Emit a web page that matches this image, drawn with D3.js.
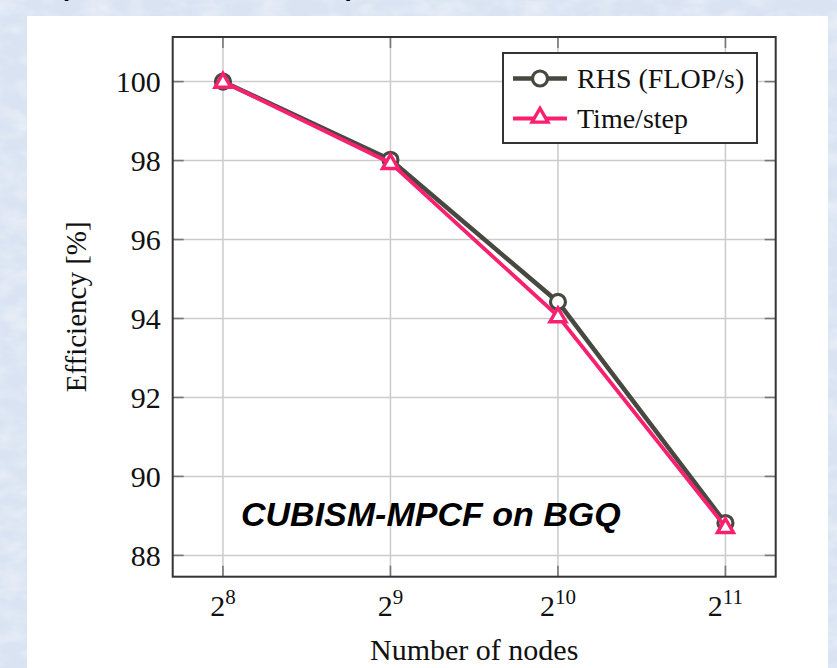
<!DOCTYPE html>
<html>
<head>
<meta charset="utf-8">
<script src="https://cdn.jsdelivr.net/npm/d3@7"></script>
<style>
  html, body { margin: 0; padding: 0; background: #dce6f4; }
  svg { display: block; }
</style>
</head>
<body>
<div id="place"></div>
<script>
(function() {

	// data
	const nodesExp = [8, 9, 10, 11]
	const rhsEff = [100, 98.02, 94.42, 88.82]
	const timeEff = [100, 97.94, 94.06, 88.72]
	const yTicks = [88, 90, 92, 94, 96, 98, 100]
	const seriesNames = ["RHS (FLOP/s)", "Time/step"]

	const W = 837, H = 668
	const frame = { left: 172.7, right: 775.7, top: 37, bottom: 576.7 }

	let svg = d3.select("#place").append("svg")
		.attr('width', W)
		.attr('height', H)

	// mottled blue backdrop
	let defs = svg.append("defs")
	let f = defs.append("filter").attr('id', 'marble')
		.attr('x', 0).attr('y', 0).attr('width', '100%').attr('height', '100%')
	f.append("feTurbulence")
		.attr('type', 'fractalNoise')
		.attr('baseFrequency', '0.035 0.06')
		.attr('numOctaves', 3)
		.attr('seed', 4)
	f.append("feColorMatrix")
		.attr('type', 'matrix')
		.attr('values', '0 0 0 0 1  0 0 0 0 1  0 0 0 0 1  0.9 0 0 0 -0.35')

	svg.append('rect').attr('width', W).attr('height', H).attr('fill', '#d9e3f2')
	svg.append('rect').attr('width', W).attr('height', H).attr('filter', 'url(#marble)')

	// caption above, mostly cut off by the top edge as in the source
	svg.append('text').attr('x', 60).attr('y', -4)
		.style('font', 'bold 26px "Liberation Sans", Arial').text('(')
	svg.append('text').attr('x', 346).attr('y', -4)
		.style('font', 'bold 26px "Liberation Sans", Arial').text(')')

	// white panel
	svg.append('rect')
		.attr('x', 27).attr('y', 16)
		.attr('width', 801).attr('height', H)
		.attr('fill', '#fff')

	const x = d3.scaleLinear().domain([7.7, 11.3]).range([frame.left, frame.right])
	const y = d3.scaleLinear().domain([87.46, 101.13]).range([frame.bottom, frame.top])

	let g = svg.append('g')

	// grid
	g.selectAll('line.gx').data(nodesExp).enter().append('line')
		.attr('x1', d => x(d)).attr('x2', d => x(d))
		.attr('y1', frame.top).attr('y2', frame.bottom)
		.style('stroke', '#cbcbcb').style('stroke-width', 1.5)
	g.selectAll('line.gy').data(yTicks).enter().append('line')
		.attr('y1', d => y(d)).attr('y2', d => y(d))
		.attr('x1', frame.left).attr('x2', frame.right)
		.style('stroke', '#cbcbcb').style('stroke-width', 1.5)

	// tick marks, inside on all four sides
	const tl = 11
	yTicks.forEach(d => {
		g.append('line').attr('x1', frame.left).attr('x2', frame.left + tl)
			.attr('y1', y(d)).attr('y2', y(d)).style('stroke', '#777').style('stroke-width', 1.6)
		g.append('line').attr('x1', frame.right - tl).attr('x2', frame.right)
			.attr('y1', y(d)).attr('y2', y(d)).style('stroke', '#777').style('stroke-width', 1.6)
	})
	nodesExp.forEach(d => {
		g.append('line').attr('y1', frame.bottom).attr('y2', frame.bottom - tl)
			.attr('x1', x(d)).attr('x2', x(d)).style('stroke', '#777').style('stroke-width', 1.6)
		g.append('line').attr('y1', frame.top).attr('y2', frame.top + tl)
			.attr('x1', x(d)).attr('x2', x(d)).style('stroke', '#777').style('stroke-width', 1.6)
	})

	// y tick labels
	g.selectAll('text.yt').data(yTicks).enter().append('text')
		.attr('x', frame.left - 12)
		.attr('y', d => y(d))
		.attr('dy', '0.34em')
		.attr('text-anchor', 'end')
		.style('font', '30px "Liberation Serif", "Times New Roman", serif')
		.style('fill', '#111')
		.text(d => d)

	// x tick labels 2^n
	let xt = g.selectAll('text.xt').data(nodesExp).enter().append('text')
		.attr('x', d => x(d))
		.attr('y', 616)
		.attr('text-anchor', 'middle')
		.style('font', '30px "Liberation Serif", "Times New Roman", serif')
		.style('fill', '#111')
	xt.append('tspan').text('2')
	xt.append('tspan').attr('dy', -12).style('font-size', '21px').text(d => d)

	// axis titles
	svg.append('text')
		.attr('x', (frame.left + frame.right) / 2).attr('y', 660)
		.attr('text-anchor', 'middle')
		.style('font', '30px "Liberation Serif", "Times New Roman", serif')
		.style('fill', '#111')
		.text('Number of nodes')
	svg.append('text')
		.attr('transform', 'translate(86,' + ((frame.top + frame.bottom) / 2) + ') rotate(-90)')
		.attr('text-anchor', 'middle')
		.style('font', '29px "Liberation Serif", "Times New Roman", serif')
		.style('fill', '#111')
		.text('Efficiency [%]')

	// frame
	g.append('rect')
		.attr('x', frame.left).attr('y', frame.top)
		.attr('width', frame.right - frame.left).attr('height', frame.bottom - frame.top)
		.style('fill', 'none').style('stroke', '#333').style('stroke-width', 2)

	// series
	const cDark = '#474840', cPink = '#f8206f'
	const line = d3.line().x(d => x(d[0])).y(d => y(d[1]))
	const rhs = nodesExp.map((d, i) => [d, rhsEff[i]])
	const tst = nodesExp.map((d, i) => [d, timeEff[i]])
	const tri = d3.symbol().type(d3.symbolTriangle).size(110)

	g.append('path').datum(rhs).attr('d', line)
		.style('fill', 'none').style('stroke', cDark).style('stroke-width', 4.5)
	g.selectAll('circle.rhs').data(rhs).enter().append('circle')
		.attr('cx', d => x(d[0])).attr('cy', d => y(d[1])).attr('r', 7.5)
		.style('fill', '#fff').style('stroke', cDark).style('stroke-width', 3.2)

	g.append('path').datum(tst).attr('d', line)
		.style('fill', 'none').style('stroke', cPink).style('stroke-width', 3.8)
	g.selectAll('path.tri').data(tst).enter().append('path')
		.attr('d', tri)
		.attr('transform', d => 'translate(' + x(d[0]) + ',' + (y(d[1]) + 1) + ')')
		.style('fill', '#fff').style('stroke', cPink).style('stroke-width', 3.4)

	// annotation
	svg.append('text')
		.attr('x', 241).attr('y', 526)
		.style('font', 'italic bold 34px "Liberation Sans", Arial, sans-serif')
		.style('fill', '#000')
		.text('CUBISM-MPCF on BGQ')

	// legend
	let lg = svg.append('g')
	lg.append('rect')
		.attr('x', 503).attr('y', 53).attr('width', 254).attr('height', 90)
		.style('fill', '#fff').style('stroke', '#333').style('stroke-width', 2)
	const rowY = [78.5, 118.5]
	const cols = [cDark, cPink]
	seriesNames.forEach((name, i) => {
		lg.append('line').attr('x1', 513).attr('x2', 567)
			.attr('y1', rowY[i]).attr('y2', rowY[i])
			.style('stroke', cols[i]).style('stroke-width', i ? 3.8 : 4.5)
		if (i === 0) {
			lg.append('circle').attr('cx', 540).attr('cy', rowY[i]).attr('r', 7.5)
				.style('fill', '#fff').style('stroke', cDark).style('stroke-width', 3.2)
		} else {
			lg.append('path').attr('d', tri)
				.attr('transform', 'translate(540,' + (rowY[i] - 1) + ')')
				.style('fill', '#fff').style('stroke', cPink).style('stroke-width', 3.4)
		}
		lg.append('text')
			.attr('x', 577).attr('y', rowY[i]).attr('dy', '0.33em')
			.style('font', '28px "Liberation Serif", "Times New Roman", serif')
			.style('fill', '#111')
			.text(name)
	})

})()
</script>
</body>
</html>
